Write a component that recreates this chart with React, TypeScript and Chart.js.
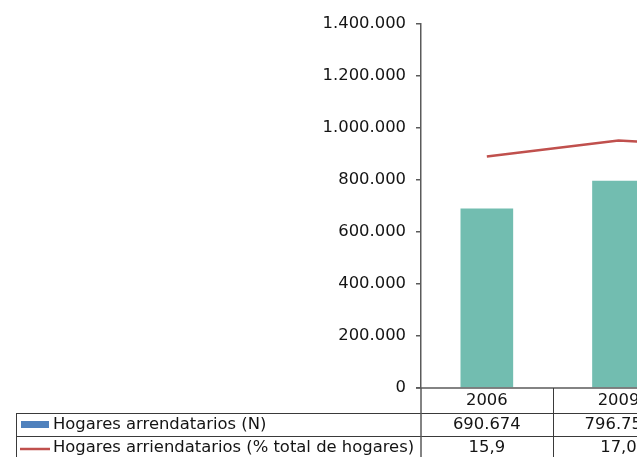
import { useEffect, useRef } from "react";
import { Chart, registerables } from "chart.js";

Chart.register(...registerables);

// Survey years and series values
const years = ["2006", "2009", "2011"];
const renterHouseholds: (number | null)[] = [690674, 796752, null];
const renterSharePct: number[] = [15.9, 17.0, 16.5];
const renterHouseholdsText = ["690.674", "796.752", ""];
const renterShareText = ["15,9", "17,0", ""];
const seriesNames = [
  "Hogares arrendatarios (N)",
  "Hogares arriendatarios (% total de hogares)",
];
const countTickMax = 1400000;
const countTickStep = 200000;

const BAR_COLOR = "#72BDB0";
const LEGEND_BLUE = "#4F81BD";
const LINE_RED = "#C0504D";
const FONT = "'DejaVu Sans', Verdana, sans-serif";
const FONT_SIZE = 16.4;
const TEXT = "#141414";
const RULE = "#3a3a3a";
const AXIS = "#5a5a5a";

const fmtThousands = (v: number) =>
  String(Math.round(v)).replace(/\B(?=(\d{3})+(?!\d))/g, ".");

// Draws the data table under the plot: year row plus one row per series
const dataTablePlugin = {
  id: "dataTable",
  afterDraw(chart: any) {
    const { ctx, chartArea } = chart;
    const x = chart.scales.x;
    const n = years.length;
    const colW = (chartArea.right - chartArea.left) / n;
    const top = chartArea.bottom;
    const r1 = top + 25;
    const r2 = r1 + 23;
    const bottom = r2 + 23;
    const tableLeft = 16;

    ctx.save();
    const hline = (x0: number, x1: number, y: number) => {
      ctx.beginPath();
      ctx.moveTo(x0, Math.round(y) + 0.5);
      ctx.lineTo(x1, Math.round(y) + 0.5);
      ctx.stroke();
    };
    const vline = (xp: number, y0: number, y1: number) => {
      ctx.beginPath();
      ctx.moveTo(Math.round(xp) + 0.5, y0);
      ctx.lineTo(Math.round(xp) + 0.5, y1);
      ctx.stroke();
    };
    ctx.strokeStyle = AXIS;
    ctx.lineWidth = 1.5;
    ctx.beginPath();
    ctx.moveTo(chartArea.left - 5, top);
    ctx.lineTo(chartArea.right, top);
    ctx.stroke();

    ctx.strokeStyle = RULE;
    ctx.lineWidth = 1;
    hline(tableLeft, chartArea.right, r1);
    hline(tableLeft, chartArea.right, r2);
    vline(tableLeft, r1, bottom);
    for (let i = 1; i <= n; i++) {
      vline(chartArea.left + i * colW, top, bottom);
    }
    ctx.strokeStyle = AXIS;
    ctx.lineWidth = 1.5;
    ctx.beginPath();
    ctx.moveTo(chartArea.left, top);
    ctx.lineTo(chartArea.left, bottom);
    ctx.stroke();

    ctx.fillStyle = TEXT;
    ctx.font = `${FONT_SIZE}px ${FONT}`;
    ctx.textAlign = "center";
    ctx.textBaseline = "middle";
    years.forEach((yr, i) => {
      const cx = x.getPixelForValue(i);
      ctx.fillText(yr, cx, top + 13);
      ctx.fillText(renterHouseholdsText[i], cx, r1 + 12);
      ctx.fillText(renterShareText[i], cx, r2 + 12);
    });

    // Row headers with their series keys
    ctx.textAlign = "left";
    ctx.fillStyle = LEGEND_BLUE;
    ctx.fillRect(21, r1 + 8, 28, 7);
    ctx.strokeStyle = LINE_RED;
    ctx.lineWidth = 2.5;
    ctx.beginPath();
    ctx.moveTo(20, r2 + 13);
    ctx.lineTo(50, r2 + 13);
    ctx.stroke();
    ctx.fillStyle = TEXT;
    ctx.fillText(seriesNames[0], 53, r1 + 12);
    ctx.fillText(seriesNames[1], 53, r2 + 12);
    ctx.restore();
  },
};

export default function App() {
  const canvasRef = useRef<HTMLCanvasElement | null>(null);

  useEffect(() => {
    const canvas = canvasRef.current;
    if (!canvas) return;
    const chart = new Chart(canvas, {
      type: "bar",
      data: {
        labels: years,
        datasets: [
          {
            type: "line",
            label: seriesNames[1],
            data: renterSharePct,
            yAxisID: "pct",
            borderColor: LINE_RED,
            borderWidth: 2.5,
            pointRadius: 0,
            tension: 0,
            order: 0,
          },
          {
            type: "bar",
            label: seriesNames[0],
            data: renterHouseholds,
            yAxisID: "y",
            backgroundColor: BAR_COLOR,
            categoryPercentage: 1,
            barPercentage: 0.4,
            order: 1,
          },
        ],
      },
      options: {
        responsive: false,
        animation: false,
        layout: { padding: { left: 0, right: 14, top: 24, bottom: 69 } },
        plugins: {
          legend: { display: false },
          tooltip: { enabled: false },
        },
        scales: {
          x: { display: false, offset: true },
          y: {
            min: 0,
            max: countTickMax,
            afterFit: (scale: any) => {
              scale.width = 421;
            },
            ticks: {
              stepSize: countTickStep,
              padding: 10,
              color: TEXT,
              font: { family: FONT, size: FONT_SIZE },
              callback: (v: any) => fmtThousands(Number(v)),
            },
            grid: {
              drawOnChartArea: false,
              drawTicks: true,
              tickLength: 5,
              tickColor: AXIS,
              tickWidth: 1.5,
              color: AXIS,
              lineWidth: 1.5,
            },
            border: { color: AXIS, width: 1.5 },
          },
          pct: {
            display: false,
            position: "right",
            min: 0,
            max: 25,
          },
        },
      },
      plugins: [dataTablePlugin],
    });
    return () => chart.destroy();
  }, []);

  return (
    <div
      style={{
        position: "fixed",
        left: 0,
        top: 0,
        width: 637,
        height: 457,
        overflow: "hidden",
        background: "#fff",
      }}
    >
      <canvas ref={canvasRef} width={830} height={457} style={{ display: "block" }} />
    </div>
  );
}
